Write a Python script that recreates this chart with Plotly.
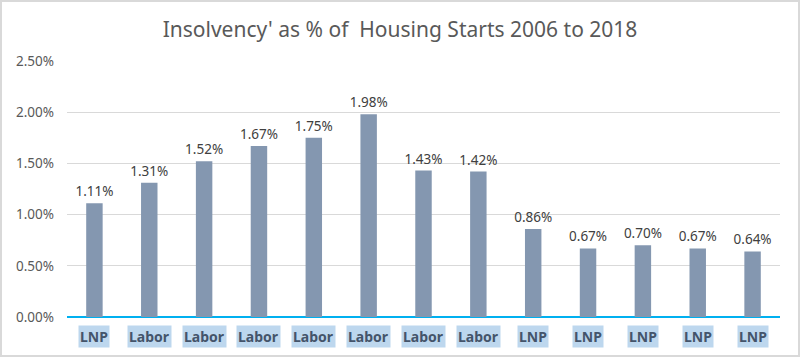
import plotly.graph_objects as go

years = ["2006", "2007", "2008", "2009", "2010", "2011", "2012", "2013", "2014", "2015", "2016", "2017", "2018"]
parties = ["LNP", "Labor", "Labor", "Labor", "Labor", "Labor", "Labor", "Labor", "LNP", "LNP", "LNP", "LNP", "LNP"]
values = [0.0111, 0.0131, 0.0152, 0.0167, 0.0175, 0.0198, 0.0143, 0.0142, 0.0086, 0.0067, 0.0070, 0.0067, 0.0064]
y_ticks = [0, 0.005, 0.01, 0.015, 0.02, 0.025]

W, H = 800, 357
ml, mr, mt, mb = 67, 20, 61, 40
pw, ph = W - ml - mr, H - mt - mb

fig = go.Figure()
fig.add_trace(go.Bar(
    x=years, y=values,
    marker=dict(color="#8497b0", line=dict(width=0)),
    width=0.3,
    text=[f"{v*100:.2f}%" for v in values],
    textposition="outside",
    constraintext="none",
    textfont=dict(family="Noto Sans", size=13.5, color="#404040"),
    cliponaxis=False,
))

annotations = []
for i, p in enumerate(parties):
    annotations.append(dict(
        x=i, y=-(336 - 317) / ph, xref="x", yref="paper",
        xanchor="center", yanchor="middle",
        text=f"<b>{p}</b>", showarrow=False,
        font=dict(family="Noto Sans", size=14, color="#44546a"),
        bgcolor="#bdd7ee", borderpad=1,
    ))

fig.update_layout(
    width=W, height=H,
    margin=dict(l=ml, r=mr, t=mt, b=mb),
    paper_bgcolor="white", plot_bgcolor="white",
    title=dict(text="Insolvency' as % of  Housing Starts 2006 to 2018",
               x=0.5, xanchor="center", y=1 - 30 / H, yanchor="middle",
               font=dict(family="Noto Sans", size=21, color="#595959")),
    showlegend=False,
    annotations=annotations,
    xaxis=dict(type="category", range=[-0.5, len(years) - 0.5],
               showticklabels=False, showgrid=False, zeroline=False,
               showline=False, ticks=""),
    yaxis=dict(range=[0, 0.025], tickvals=y_ticks, tickformat=".2%",
               showgrid=True, gridcolor="#d9d9d9", gridwidth=1,
               zeroline=True, zerolinecolor="#00b0f0", zerolinewidth=2,
               tickfont=dict(family="Noto Sans", size=13.5, color="#595959"),
               ticklabelstandoff=12,
               ticks="", showline=False),
    shapes=[dict(type="rect", xref="paper", yref="paper",
                 x0=-(ml - 1) / pw, x1=1 + (mr - 1) / pw,
                 y0=-(mb - 1) / ph, y1=1 + (mt - 1) / ph,
                 line=dict(color="#d9d9d9", width=2), fillcolor="rgba(0,0,0,0)")],
)

fig.write_html("out.html", config={"displayModeBar": False},
               post_script="document.body.style.margin='0';")
